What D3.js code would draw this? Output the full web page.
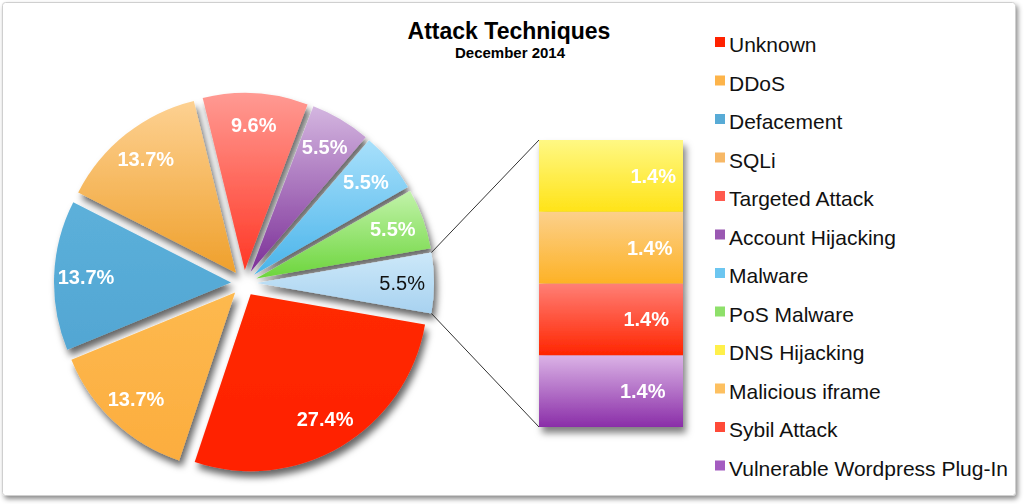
<!DOCTYPE html>
<html><head><meta charset="utf-8">
<script src="https://cdn.jsdelivr.net/npm/d3@7"></script>
<style>html,body{margin:0;padding:0;background:#fff;} svg{display:block;font-family:"Liberation Sans",Arial,Helvetica,sans-serif;}</style>
</head><body><svg id="chart" width="1024" height="504"></svg>
<script>
// ---- data ----
const pieCategories = ["Unknown","DDoS","Defacement","SQLi","Targeted Attack","Account Hijacking","Malware","PoS Malware","Other"];
const pieValues = [27.4,13.7,13.7,13.7,9.6,5.5,5.5,5.5,5.5];
const pieLabels = ["27.4%","13.7%","13.7%","13.7%","9.6%","5.5%","5.5%","5.5%","5.5%"];
const barCategories = ["DNS Hijacking","Malicious iframe","Sybil Attack","Vulnerable Wordpress Plug-In"];
const barValues = [1.4,1.4,1.4,1.4];
const barLabels = ["1.4%","1.4%","1.4%","1.4%"];
const legendNames = ["Unknown","DDoS","Defacement","SQLi","Targeted Attack","Account Hijacking","Malware","PoS Malware","DNS Hijacking","Malicious iframe","Sybil Attack","Vulnerable Wordpress Plug-In"];
const titleText = "Attack Techniques";
const subtitleText = "December 2014";

// ---- styles ----
const pieTop    = ["#ff2a00","#fdb94f","#5cb0da","#fdd192","#ff9a93","#d4b6e0","#a8e0fb","#c2f3aa","#cce8f9"];
const pieBottom = ["#ff2000","#fcad3e","#52a6d3","#efa02c","#ff3826","#7c3098","#4ab4ea","#6cd53c","#a8d2f0"];
const barTop    = ["#fff883","#fcd08b","#ff7f76","#dbb3e6"];
const barBottom = ["#ffe318","#fdb226","#ff2500","#8a2ea8"];
const legendColors = ["#ff2200","#fdb44a","#58abd6","#f7b866","#ff5a4e","#9a58b2","#6cc6f0","#8ee06a","#fff04a","#fdc060","#ff4a38","#a45cc0"];

const svg = d3.select("#chart");
const defs = svg.append("defs");

function shadow(id, dx, dy, sd, op){
  const f = defs.append("filter").attr("id", id)
    .attr("x","-20%").attr("y","-20%").attr("width","140%").attr("height","140%");
  f.append("feDropShadow").attr("dx",dx).attr("dy",dy).attr("stdDeviation",sd)
    .attr("flood-color","#000").attr("flood-opacity",op);
}
shadow("frameShadow", 2, 3, 2.5, 0.45);
shadow("pieShadow", 3, 6, 3.5, 0.6);
shadow("barShadow", 3, 6, 3.5, 0.5);

function grad(id, top, bottom){
  const g = defs.append("linearGradient").attr("id", id)
    .attr("x1",0).attr("y1",0).attr("x2",0).attr("y2",1);
  g.append("stop").attr("offset","0%").attr("stop-color", top);
  g.append("stop").attr("offset","100%").attr("stop-color", bottom);
}
pieTop.forEach((c,i)=>grad("pg"+i, c, pieBottom[i]));
barTop.forEach((c,i)=>grad("bg"+i, c, barBottom[i]));

// frame
svg.append("rect").attr("x",2.5).attr("y",2.5).attr("width",1013).attr("height",493)
  .attr("rx",3).attr("fill","#fff").attr("stroke","#cfcfcf").attr("stroke-width",1)
  .attr("filter","url(#frameShadow)");

// title
svg.append("text").attr("x",509).attr("y",39).attr("text-anchor","middle")
  .attr("font-size",23).attr("font-weight","bold").attr("fill","#000").text(titleText);
svg.append("text").attr("x",510).attr("y",58).attr("text-anchor","middle")
  .attr("font-size",15).attr("font-weight","bold").attr("fill","#000").text(subtitleText);

// ---- pie ----
const cx = 244, cy = 283, R = 177, explode = 13;
const total = d3.sum(pieValues);
const last = pieValues[pieValues.length-1];
const start = Math.PI/2 + Math.PI * last / total;   // "Other" slice centred on 3 o'clock
const pie = d3.pie().sort(null).value(d=>d).startAngle(start).endAngle(start + 2*Math.PI);
const arcs = pie(pieValues);
const arc = d3.arc().innerRadius(0).outerRadius(R);

function offs(a){ const m=(a.startAngle+a.endAngle)/2; return [explode*Math.sin(m), -explode*Math.cos(m)]; }

const pg = svg.append("g").attr("transform",`translate(${cx},${cy})`);
const sl = pg.append("g").attr("filter","url(#pieShadow)");
sl.selectAll("path").data(arcs).join("path")
  .attr("transform", d=>{const o=offs(d); return `translate(${o[0]},${o[1]})`;})
  .attr("d", arc)
  .attr("fill", (d,i)=>`url(#pg${i})`);

const LR = 0.82;
pg.selectAll("text.pl").data(arcs).join("text").attr("class","pl")
  .attr("x", d=>{const m=(d.startAngle+d.endAngle)/2; return offs(d)[0] + LR*R*Math.sin(m);})
  .attr("y", d=>{const m=(d.startAngle+d.endAngle)/2; return offs(d)[1] - LR*R*Math.cos(m);})
  .attr("dy","0.35em").attr("text-anchor","middle").attr("font-size",20)
  .attr("font-weight",(d,i)=> i===arcs.length-1 ? "normal" : "bold")
  .attr("fill",(d,i)=> i===arcs.length-1 ? "#111" : "#fff")
  .text((d,i)=>pieLabels[i]);

// ---- bar of pie ----
const bx0 = 539, bx1 = 683;
const barTotal = d3.sum(barValues);
const y = d3.scaleLinear().domain([0, barTotal]).range([427, 140]);
// stack bottom-up from the last category
const segs = [];
let acc = 0;
for (let i = barValues.length-1; i >= 0; i--) {
  segs.push({i, y0: acc, y1: acc + barValues[i]});
  acc += barValues[i];
}
const bg = svg.append("g");
bg.append("g").attr("filter","url(#barShadow)")
  .selectAll("rect").data(segs).join("rect")
  .attr("x", bx0).attr("width", bx1-bx0)
  .attr("y", d=>y(d.y1)).attr("height", d=>y(d.y0)-y(d.y1))
  .attr("fill", d=>`url(#bg${d.i})`);
bg.selectAll("text").data(segs).join("text")
  .attr("x", d=> bx1 - 7 - 3.5*d.i)
  .attr("y", d=> (y(d.y0)+y(d.y1))/2)
  .attr("dy","0.35em").attr("text-anchor","end")
  .attr("font-size",20).attr("font-weight","bold").attr("fill","#fff")
  .text(d=>barLabels[d.i]);

// connector lines
const oa = arcs[arcs.length-1];
const oo = offs(oa);
const p0 = [cx+oo[0]+R*Math.sin(oa.startAngle), cy+oo[1]-R*Math.cos(oa.startAngle)];
const p1 = [cx+oo[0]+R*Math.sin(oa.endAngle), cy+oo[1]-R*Math.cos(oa.endAngle)];
svg.append("line").attr("x1",p0[0]).attr("y1",p0[1]).attr("x2",bx0).attr("y2",y(barTotal))
  .attr("stroke","#333").attr("stroke-width",1);
svg.append("line").attr("x1",p1[0]).attr("y1",p1[1]).attr("x2",bx0).attr("y2",y(0))
  .attr("stroke","#333").attr("stroke-width",1);

// ---- legend ----
const lg = svg.append("g");
const rows = lg.selectAll("g").data(legendNames).join("g")
  .attr("transform",(d,i)=>`translate(715,${52 + i*38.5})`);
rows.append("rect").attr("x",0).attr("y",-15).attr("width",10).attr("height",10)
  .attr("fill",(d,i)=>legendColors[i]);
rows.append("text").attr("x",14).attr("y",0).attr("font-size",21).attr("fill","#111").text(d=>d);
</script></body></html>
